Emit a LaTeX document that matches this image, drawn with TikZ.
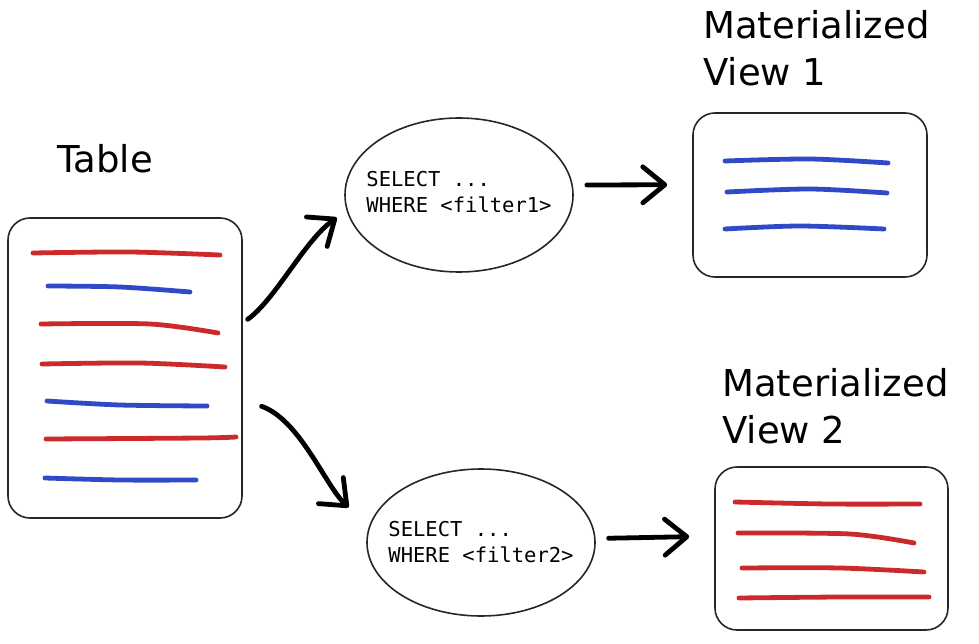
\documentclass[tikz,border=0pt]{standalone}
\usepackage{fontspec}
\usetikzlibrary{shapes.geometric,arrows.meta}
\newfontfamily\handfont{DejaVu Sans}
\newfontfamily\codefont{DejaVu Sans Mono}
\definecolor{penred}{HTML}{CC2A2A}
\definecolor{penblue}{HTML}{3049C6}
\tikzset{
  box/.style={draw=black!85, line width=1.6pt, rounded corners=22pt, inner sep=0pt},
  ell/.style={ellipse, draw=black!85, line width=1.6pt, inner sep=0pt},
  codetext/.style={inner sep=0pt, align=left, font=\codefont\fontsize{20.5}{26}\selectfont},
  lbl/.style={inner sep=0pt, align=left, font=\handfont\fontsize{37}{47}\selectfont},
  arr/.style={line width=4.8pt, line cap=round, line join=round,
    -{Straight Barb[length=22pt,width=36pt,round]}},
  rline/.style={penred, line width=4.8pt, line cap=round},
  bline/.style={penblue, line width=4.8pt, line cap=round}
}
\begin{document}
\begin{tikzpicture}[x=1pt,y=-1pt]
\useasboundingbox (0,0) rectangle (979,644);

% labels
\node[lbl, anchor=base west] (tlab) at (57,173) {Table};
\node[lbl, anchor=north west] (mv1lab) at (703,10) {Materialized\\View 1};
\node[lbl, anchor=north west] (mv2lab) at (722,368) {Materialized\\View 2};

% boxes
\node[box, minimum width=234pt, minimum height=300pt] (table) at (125,368) {};
\node[box, minimum width=234pt, minimum height=164pt] (mv1) at (810,195) {};
\node[box, minimum width=233pt, minimum height=163pt] (mv2) at (831.5,548.5) {};

% ellipses
\node[ell, minimum width=228pt, minimum height=154pt,
  label={[codetext, yshift=3pt]center:SELECT ...\\WHERE <filter1>}] (e1) at (459,195) {};
\node[ell, minimum width=228pt, minimum height=147pt,
  label={[codetext]center:SELECT ...\\WHERE <filter2>}] (e2) at (481,542.5) {};

% table rows
\draw[rline] plot[smooth] coordinates {(33,253) (130,252) (220,255)};
\draw[bline] plot[smooth] coordinates {(48,286) (120,287) (190,292)};
\draw[rline] plot[smooth] coordinates {(41,324) (150,324) (218,333)};
\draw[rline] plot[smooth] coordinates {(42,364) (140,363) (225,367)};
\draw[bline] plot[smooth] coordinates {(47,401) (120,405) (207,406)};
\draw[rline] plot[smooth] coordinates {(46,439) (200,438) (236,437)};
\draw[bline] plot[smooth] coordinates {(45,478) (120,480) (196,480)};

% view 1 rows
\draw[bline] plot[smooth] coordinates {(725,161) (810,159) (888,163)};
\draw[bline] plot[smooth] coordinates {(727,192) (810,189) (887,193)};
\draw[bline] plot[smooth] coordinates {(725,229) (800,226) (884,229)};

% view 2 rows
\draw[rline] plot[smooth] coordinates {(735,502) (830,504) (920,504)};
\draw[rline] plot[smooth] coordinates {(738,533) (850,534) (914,543)};
\draw[rline] plot[smooth] coordinates {(742,568) (840,568) (924,572)};
\draw[rline] plot[smooth] coordinates {(739,598) (840,597) (929,597)};

% arrows
\draw[arr, shorten <=6pt, shorten >=12pt] (table.21) .. controls (275,300) and (305,240) .. (e1.188);
\draw[arr, shorten <=14pt, shorten >=25pt] (e1.5) -- (mv1.175);
\draw[arr, shorten <=20pt, shorten >=28pt] (table.-15) .. controls (300,420) and (325,485) .. (e2.172);
\draw[arr, shorten <=13pt, shorten >=25pt] (e2.2) -- (mv2.174);
\end{tikzpicture}
\end{document}
